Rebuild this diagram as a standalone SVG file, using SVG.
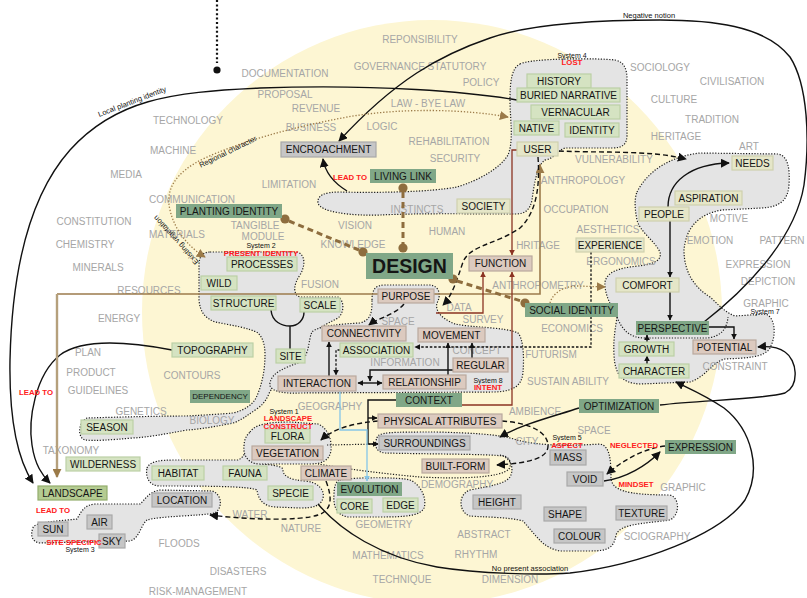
<svg xmlns="http://www.w3.org/2000/svg" width="807" height="598" viewBox="0 0 807 598">
<style>
.gw{font-family:'Liberation Sans',Arial,sans-serif;font-size:10px;fill:#a6a6a6;text-anchor:middle}
.nt{font-family:'Liberation Sans',Arial,sans-serif;font-size:10px;fill:#151515;text-anchor:middle}
.rl{font-family:'Liberation Sans',Arial,sans-serif;font-size:7.8px;font-weight:bold;fill:#ff2020;text-anchor:middle}
.sl{font-family:'Liberation Sans',Arial,sans-serif;font-size:7px;fill:#111;text-anchor:middle}
.cl{font-family:'Liberation Sans',Arial,sans-serif;font-size:7.5px;fill:#111;text-anchor:middle}
.blob{fill:#e4e4e4;stroke:#1c1c1c;stroke-width:1.2;stroke-dasharray:1.2 1.6}
.dl{fill:none;stroke:#1c1c1c;stroke-width:1.2;stroke-dasharray:1.2 1.6}
.lg rect{fill:#d5e3c2;stroke:#bcd0a6;stroke-width:1.2}
.py rect{fill:#e5e6c8;stroke:#cfd1ae;stroke-width:1.2}
.dg rect{fill:#80a787}
.pk rect{fill:#dccabf;stroke:#baa99e;stroke-width:1.2}
.gy rect{fill:#c6c6c6;stroke:#a9a9a9;stroke-width:1.2}
.ls rect{fill:#b4cb91;stroke:#93ad6d;stroke-width:1.2}
.k{fill:none;stroke:#111;stroke-width:1.4}
.kd{fill:none;stroke:#111;stroke-width:1.4;stroke-dasharray:5 3}
.ks{fill:none;stroke:#111;stroke-width:1.3;stroke-dasharray:2.5 1.8}
.br{fill:none;stroke:#8e6d3e;stroke-width:3;stroke-dasharray:6 4}
.bd{fill:none;stroke:#9b7a48;stroke-width:1.3;stroke-dasharray:1.3 1.8}
.rd{fill:none;stroke:#8b3322;stroke-width:1.3}
.dot{fill:#8e6d3e}
</style>
<defs>
<marker id="ab" viewBox="0 0 10 10" refX="9" refY="5" markerWidth="9" markerHeight="9" markerUnits="userSpaceOnUse" orient="auto-start-reverse"><path d="M0,0 L10,5 L0,10 z" fill="#111"/></marker>
<marker id="as" viewBox="0 0 10 10" refX="9" refY="5" markerWidth="6" markerHeight="6" markerUnits="userSpaceOnUse" orient="auto-start-reverse"><path d="M0,0 L10,5 L0,10 z" fill="#111"/></marker>
<marker id="abr" viewBox="0 0 10 10" refX="9" refY="5" markerWidth="9" markerHeight="9" markerUnits="userSpaceOnUse" orient="auto-start-reverse"><path d="M0,0 L10,5 L0,10 z" fill="#9b7a48"/></marker>
<marker id="ar" viewBox="0 0 10 10" refX="9" refY="5" markerWidth="6" markerHeight="6" markerUnits="userSpaceOnUse" orient="auto-start-reverse"><path d="M0,0 L10,5 L0,10 z" fill="#8b3322"/></marker>
<marker id="abl" viewBox="0 0 10 10" refX="9" refY="5" markerWidth="6" markerHeight="6" markerUnits="userSpaceOnUse" orient="auto-start-reverse"><path d="M0,0 L10,5 L0,10 z" fill="#86c6e8"/></marker>
</defs>
<rect x="0" y="0" width="807" height="598" fill="#ffffff"/>
<ellipse cx="432" cy="312" rx="290" ry="292" fill="#fdf6d3"/>

<g id="blobs">
<path id="sys4" class="blob" d="M520,64 C530,58 600,58 615,60 C625,62 627,70 627,80 L627,135 C627,145 622,148 612,148 L565,148 C558,150 556,158 545,160 C537,165 534,185 532,200 C530,210 525,214 515,214 C480,214 420,213 380,215 C350,216 320,212 318,203 C317,195 325,192 340,192 C380,193 430,192 457,187 C480,180 500,168 508,155 C514,140 510,120 510,100 C510,80 512,68 520,64 Z"/>
<path id="sys2" class="blob" d="M210,252 L297,252 C305,254 306,265 300,275 C293,285 293,295 300,297 L338,297 C344,300 345,312 338,318 C325,325 312,330 310,342 C308,358 306,368 296,374 C284,380 272,384 268,396 C265,402 262,405 258,408 C248,415 240,421 233,423 C210,428 190,430 187,430 C165,434 150,437 133,438 C110,440 95,441 85,440 C78,438 77,424 87,418 C120,417 160,416 187,416 C205,415 222,414 233,413 C245,410 252,405 256,398 C262,385 265,370 265,355 C265,345 263,338 258,333 C250,328 230,325 215,322 C205,318 200,312 199,300 L199,265 C199,256 203,252 210,252 Z"/>
<path id="sys8" class="blob" d="M372,300 C372,290 375,285 385,285 L430,285 C440,286 441,296 437,303 C435,310 440,318 455,324 C475,328 505,327 518,333 C524,340 524,360 523,372 C522,385 515,391 495,392 L300,393 C280,394 268,390 270,383 C272,372 285,368 300,362 C310,355 308,340 312,332 C318,326 340,324 360,323 C372,320 372,310 372,300 Z"/>
<path id="sys7" class="blob" d="M637,192 C648,170 672,156 700,153 L778,154 C788,156 790,168 789,185 C788,200 780,207 762,208 L722,210 C698,214 686,228 684,250 C684,272 694,287 710,297 C718,304 724,312 735,316 L765,314 C775,316 777,335 770,348 C764,358 745,358 725,359 C712,362 706,377 690,382 L640,384 C622,383 615,375 614,355 C613,338 616,325 617,317 C610,305 604,292 605,282 C607,272 618,268 638,266 C655,264 662,260 660,252 C654,240 640,232 637,220 C635,210 634,200 637,192 Z"/>
<path class="dl" d="M617,317 C622,330 630,338 645,338 L708,338 C722,336 727,328 728,317"/>
<path id="habitat-blob" class="blob" d="M147,468 C150,461 160,460 175,460 L238,460 C244,458 246,450 248,446 L255,463 C268,465 283,465 283,470 C283,476 290,480 305,481 C318,482 325,490 323,498 C321,506 313,508 300,508 L275,507 C262,506 258,498 257,490 C250,486 200,486 160,486 C150,486 145,478 147,468 Z"/>
<path id="sys1" class="blob" d="M250,432 C255,424 270,422 290,422 L318,424 C328,428 332,440 331,450 C330,460 322,464 310,464 L258,464 C248,463 243,455 244,447 C244,440 246,436 250,432 Z"/>
<path id="sys3" class="blob" d="M33,528 C33,522 60,521 77,519 C82,510 85,505 95,504 L140,504 C145,500 148,492 160,490 L212,491 C222,494 223,508 215,513 C200,516 160,516 147,520 C140,526 140,538 130,541 L40,543 C32,542 30,535 33,528 Z"/>
<path id="evo-blob" class="blob" d="M340,480 C355,477 400,477 410,480 C422,485 427,500 424,508 C420,516 405,517 380,517 L348,517 C336,515 333,505 334,495 C334,486 336,481 340,480 Z"/>
<path id="sys5" class="blob" d="M377,438 C378,432 390,432 437,432 C470,433 500,434 517,440 C540,446 570,446 600,444 C610,446 611,460 611,478 C612,490 625,495 670,495 C680,498 680,515 670,520 C640,524 620,524 616,535 C614,548 608,551 590,551 L560,551 C545,548 540,540 535,535 L523,521 C510,517 480,517 470,516 C458,512 458,494 470,490 C490,486 505,484 510,477 C514,470 512,460 503,456 C490,454 420,454 385,453 C375,452 374,444 377,438 Z"/>
<path class="dl" d="M327,445 L378,444"/>
<path class="dl" d="M318,464 C340,468 385,474 420,477 C460,479 500,478 509,469 C513,461 508,456 500,455"/>
</g>

<g id="words">
<text class="gw" x="420" y="42.6">REPONSIBILITY</text>
<text class="gw" x="285" y="76.6">DOCUMENTATION</text>
<text class="gw" x="420" y="69.6">GOVERNANCE STATUTORY</text>
<text class="gw" x="481" y="85.6">POLICY</text>
<text class="gw" x="285" y="97.6">PROPOSAL</text>
<text class="gw" x="316" y="111.6">REVENUE</text>
<text class="gw" x="428" y="106.6">LAW - BYE LAW</text>
<text class="gw" x="311" y="130.6">BUSINESS</text>
<text class="gw" x="382" y="129.6">LOGIC</text>
<text class="gw" x="449" y="144.6">REHABILITATION</text>
<text class="gw" x="455" y="161.6">SECURITY</text>
<text class="gw" x="289" y="187.6">LIMITATION</text>
<text class="gw" x="188" y="123.6">TECHNOLOGY</text>
<text class="gw" x="173" y="153.6">MACHINE</text>
<text class="gw" x="126" y="177.6">MEDIA</text>
<text class="gw" x="192" y="202.6">COMMUNICATION</text>
<text class="gw" x="94" y="224.6">CONSTITUTION</text>
<text class="gw" x="85" y="247.6">CHEMISTRY</text>
<text class="gw" x="98" y="270.6">MINERALS</text>
<text class="gw" x="177" y="237.6">MATERIALS</text>
<text class="gw" x="149" y="293.6">RESOURCES</text>
<text class="gw" x="119" y="321.6">ENERGY</text>
<text class="gw" x="88" y="355.6">PLAN</text>
<text class="gw" x="91" y="375.6">PRODUCT</text>
<text class="gw" x="98" y="393.6">GUIDELINES</text>
<text class="gw" x="192" y="378.6">CONTOURS</text>
<text class="gw" x="141" y="414.6">GENETICS</text>
<text class="gw" x="212" y="423.6">BIOLOGY</text>
<text class="gw" x="71" y="453.6">TAXONOMY</text>
<text class="gw" x="179" y="546.6">FLOODS</text>
<text class="gw" x="238" y="574.6">DISASTERS</text>
<text class="gw" x="198" y="594.6">RISK-MANAGEMENT</text>
<text class="gw" x="250" y="517.6">WATER</text>
<text class="gw" x="301" y="531.6">NATURE</text>
<text class="gw" x="330" y="409.6">GEOGRAPHY</text>
<text class="gw" x="384" y="527.6">GEOMETRY</text>
<text class="gw" x="388" y="558.6">MATHEMATICS</text>
<text class="gw" x="402" y="582.6">TECHNIQUE</text>
<text class="gw" x="484" y="537.6">ABSTRACT</text>
<text class="gw" x="476" y="557.6">RHYTHM</text>
<text class="gw" x="510" y="582.6">DIMENSION</text>
<text class="gw" x="457" y="487.6">DEMOGRAPHY</text>
<text class="gw" x="527" y="444.6">CITY</text>
<text class="gw" x="535" y="414.6">AMBIENCE</text>
<text class="gw" x="594" y="433.6">SPACE</text>
<text class="gw" x="683" y="490.6">GRAPHIC</text>
<text class="gw" x="657" y="539.6">SCIOGRAPHY</text>
<text class="gw" x="551" y="357.6">FUTURISM</text>
<text class="gw" x="568" y="384.6">SUSTAIN ABILITY</text>
<text class="gw" x="735" y="369.6">CONSTRAINT</text>
<text class="gw" x="572" y="331.6">ECONOMICS</text>
<text class="gw" x="538" y="288.6">ANTHROPOMETRY</text>
<text class="gw" x="621" y="264.6">ERGONOMICS</text>
<text class="gw" x="608" y="232.6">AESTHETICS</text>
<text class="gw" x="576" y="212.6">OCCUPATION</text>
<text class="gw" x="538" y="248.6">HRITAGE</text>
<text class="gw" x="583" y="183.6">ANTHROPOLOGY</text>
<text class="gw" x="614" y="162.6">VULNERABILITY</text>
<text class="gw" x="660" y="70.6">SOCIOLOGY</text>
<text class="gw" x="732" y="84.6">CIVILISATION</text>
<text class="gw" x="674" y="102.6">CULTURE</text>
<text class="gw" x="712" y="122.6">TRADITION</text>
<text class="gw" x="676" y="139.6">HERITAGE</text>
<text class="gw" x="749" y="149.6">ART</text>
<text class="gw" x="729" y="221.6">MOTIVE</text>
<text class="gw" x="710" y="243.6">EMOTION</text>
<text class="gw" x="782" y="243.6">PATTERN</text>
<text class="gw" x="758" y="267.6">EXPRESSION</text>
<text class="gw" x="768" y="284.6">DEPICTION</text>
<text class="gw" x="766" y="306.6">GRAPHIC</text>
<text class="gw" x="355" y="228.6">VISION</text>
<text class="gw" x="417" y="212.6">INSTINCTS</text>
<text class="gw" x="447" y="234.6">HUMAN</text>
<text class="gw" x="353" y="247.6">KNOWLEDGE</text>
<text class="gw" x="255" y="228.6">TANGIBLE</text>
<text class="gw" x="263" y="239.6">MODULE</text>
<text class="gw" x="320" y="287.6">FUSION</text>
<text class="gw" x="398" y="324.6">SPACE</text>
<text class="gw" x="459" y="310.6">DATA</text>
<text class="gw" x="483" y="322.6">SURVEY</text>
<text class="gw" x="405" y="365.6">INFORMATION</text>
<text class="gw" x="477" y="353.6">CONCEPT</text>
</g>

<g id="connectors">
<path d="M217,0 V63" fill="none" stroke="#111" stroke-width="2.2" stroke-dasharray="2 2.4"/>
<circle cx="217" cy="70" r="3.6" fill="#111"/>
<path class="k" d="M517,100 C470,92 380,84 260,88 C170,92 115,100 70,150 C30,195 12,270 10,360 C9,420 18,460 33,483" marker-end="url(#ab)"/>
<path class="k" d="M172,350 C120,340 80,340 60,355 C35,375 28,420 32,445 C35,465 42,475 50,483" marker-end="url(#ab)"/>
<path class="k" d="M704,322 C745,290 795,240 804,185 C810,140 808,85 790,57 C765,25 710,20 660,20 C590,20 530,24 490,38 C440,55 395,80 339,141" marker-end="url(#ab)"/>
<path class="k" d="M347,191 C334,183 325,172 323,159" marker-end="url(#ab)"/>
<path class="bd" d="M508,117 C470,110 400,106 337,119 C290,128 240,142 205,158 C175,172 165,190 170,210 C175,232 190,248 205,257" marker-start="url(#abr)" marker-end="url(#abr)"/>
<path fill="none" stroke="#9c7b4c" stroke-width="1.6" d="M540,164 V294 H57"/>
<path fill="none" stroke="#b5a07c" stroke-width="2.4" d="M57,294 V477" marker-end="url(#abr)"/>
<path d="M540,180 V165" fill="none" stroke="#9c7b4c" stroke-width="1.6" marker-end="url(#abr)"/>
<path class="rd" d="M517,150 H512 V255" marker-end="url(#ar)"/>
<path class="rd" d="M436,313 H483 V272" marker-end="url(#ar)"/>
<path class="rd" d="M462,405 H512 V272" marker-end="url(#ar)"/>
<path class="kd" d="M538,157 C540,185 537,212 520,228 C495,245 470,245 463,262 C457,280 452,296 443,305" marker-end="url(#ab)"/>
<path class="kd" d="M559,151 C600,153 650,150 686,159" marker-end="url(#ab)"/>
<path class="kd" d="M404,304 C395,315 378,318 369,325" marker-end="url(#ab)"/>
<path class="br" d="M403,192 V244"/>
<path class="br" d="M289,221 L359,250"/>
<path class="br" d="M457,281 L521,301"/>
<circle class="dot" cx="403" cy="188" r="4.6"/>
<circle class="dot" cx="403" cy="248" r="4.6"/>
<circle class="dot" cx="285" cy="219" r="4.6"/>
<circle class="dot" cx="363" cy="252" r="4.6"/>
<circle class="dot" cx="453" cy="279" r="4.6"/>
<circle class="dot" cx="525" cy="303" r="4.6"/>
<path class="bd" d="M550,303 C553,292 565,286 578,286 L605,287" marker-end="url(#abr)"/>
<path class="k" d="M271,310 C272,322 282,326 290,326 C298,326 304,320 304,312 M290,326 V349"/>
<path class="k" d="M329,376 V342" marker-end="url(#as)"/>
<path class="ks" d="M340,350 H336 V375" marker-end="url(#as)"/>
<path class="ks" d="M591,252 V347 H415" marker-end="url(#as)"/>
<path class="k" d="M358,383 H382" marker-start="url(#as)" marker-end="url(#as)"/>
<path class="k" d="M453,370 H370 V381" marker-end="url(#as)"/>
<path class="k" d="M448,375 V343" marker-end="url(#as)"/>
<path class="k" d="M472,358 V343" marker-end="url(#as)"/>
<path class="k" d="M396,400 H368 V444 H378" marker-end="url(#as)"/>
<path class="k" d="M368,418 H377" marker-end="url(#as)"/>
<path fill="none" stroke="#86c6e8" stroke-width="1.3" d="M340,391 V430 H367 V481" marker-end="url(#abl)"/>
<path class="kd" d="M378,421 C355,423 334,428 321,440" marker-end="url(#ab)"/>
<path class="kd" d="M502,421 C530,423 548,432 548,446 C548,458 530,463 497,465" marker-end="url(#ab)"/>
<path class="k" d="M579,408 C555,416 522,424 500,437" marker-end="url(#ab)"/>
<path class="k" d="M604,481 C626,478 646,466 660,452" marker-end="url(#ab)"/>
<path class="kd" d="M665,446 C642,449 622,461 607,474" marker-end="url(#ab)"/>
<path class="kd" d="M326,481 C332,497 333,510 318,515 C300,521 250,520 210,515" marker-end="url(#ab)"/>
<path class="k" d="M318,504 C340,530 380,557 437,567 C480,574 540,575 570,573 C640,565 720,535 745,500 C762,470 752,430 724,408 C705,395 688,388 676,382" marker-end="url(#ab)"/>
<path class="k" d="M660,405 C700,400 760,400 785,393 C800,385 797,360 785,352 C778,347 768,346 758,347" marker-end="url(#ab)"/>
<path class="k" d="M668,207 C668,182 690,164 729,163" marker-end="url(#ab)"/>
<path class="k" d="M670,221 V277" marker-end="url(#as)"/>
<path class="k" d="M670,292 V320" marker-end="url(#as)"/>
<path class="k" d="M709,327 H734 V339" marker-end="url(#as)"/>
<path class="k" d="M647,342 V335" marker-end="url(#as)"/>
<path class="k" d="M647,364 V356" marker-end="url(#as)"/>
</g>

<g id="nodes">
<g id="n-history" class="lg"><rect x="527" y="74" width="64" height="14"/><text class="nt" x="559" y="84.6">HISTORY</text></g>
<g id="n-buried" class="lg"><rect x="517" y="88" width="103" height="14"/><text class="nt" x="568.5" y="98.6">BURIED NARRATIVE</text></g>
<g id="n-vernacular" class="lg"><rect x="531" y="105" width="89" height="14"/><text class="nt" x="575.5" y="115.6">VERNACULAR</text></g>
<g id="n-native" class="lg"><rect x="514" y="121" width="45" height="14"/><text class="nt" x="536.5" y="131.6">NATIVE</text></g>
<g id="n-identity" class="lg"><rect x="565" y="123" width="54" height="14"/><text class="nt" x="592" y="133.6">IDENTITY</text></g>
<g id="n-user" class="py"><rect x="517" y="142" width="41" height="14"/><text class="nt" x="537.5" y="152.6">USER</text></g>
<g id="n-encroachment" class="gy"><rect x="281" y="142" width="95" height="15"/><text class="nt" x="328.5" y="153.1">ENCROACHMENT</text></g>
<g id="n-livinglink" class="dg"><rect x="370" y="169" width="66" height="14"/><text class="nt" x="403" y="179.6">LIVING LINK</text></g>
<g id="n-society" class="py"><rect x="457" y="199" width="53" height="14"/><text class="nt" x="483.5" y="209.6">SOCIETY</text></g>
<g id="n-planting" class="dg"><rect x="176" y="204" width="106" height="14"/><text class="nt" x="229" y="214.6">PLANTING IDENTITY</text></g>
<g id="n-design" class="dg"><rect x="366" y="253" width="87" height="26"/><text class="nt" x="409.5" y="273" style="font-size:19.5px;font-weight:bold">DESIGN</text></g>
<g id="n-function" class="pk"><rect x="469" y="256" width="63" height="15"/><text class="nt" x="500.5" y="267.1">FUNCTION</text></g>
<g id="n-social" class="dg"><rect x="525" y="303" width="93" height="14"/><text class="nt" x="571.5" y="313.6">SOCIAL IDENTITY</text></g>
<g id="n-processes" class="lg"><rect x="227" y="257" width="70" height="14"/><text class="nt" x="262" y="267.6">PROCESSES</text></g>
<g id="n-wild" class="lg"><rect x="201" y="276" width="36" height="14"/><text class="nt" x="219" y="286.6">WILD</text></g>
<g id="n-structure" class="lg"><rect x="211" y="296" width="65" height="14"/><text class="nt" x="243.5" y="306.6">STRUCTURE</text></g>
<g id="n-scale" class="lg"><rect x="300" y="298" width="40" height="14"/><text class="nt" x="320" y="308.6">SCALE</text></g>
<g id="n-site" class="lg"><rect x="276" y="349" width="29" height="14"/><text class="nt" x="290.5" y="359.6">SITE</text></g>
<g id="n-topography" class="lg"><rect x="172" y="343" width="81" height="14"/><text class="nt" x="212.5" y="353.6">TOPOGRAPHY</text></g>
<g id="n-dependency" class="dg"><rect x="190" y="390" width="60" height="13"/><text class="nt" x="220" y="399.4" style="font-size:8px">DEPENDENCY</text></g>
<g id="n-purpose" class="pk"><rect x="378" y="289" width="56" height="14"/><text class="nt" x="406" y="299.6">PURPOSE</text></g>
<g id="n-connectivity" class="pk"><rect x="322" y="326" width="84" height="15"/><text class="nt" x="364" y="337.1">CONNECTIVITY</text></g>
<g id="n-movement" class="pk"><rect x="418" y="328" width="67" height="14"/><text class="nt" x="451.5" y="338.6">MOVEMENT</text></g>
<g id="n-association" class="lg"><rect x="340" y="343" width="73" height="14"/><text class="nt" x="376.5" y="353.6">ASSOCIATION</text></g>
<g id="n-regular" class="pk"><rect x="453" y="358" width="55" height="14"/><text class="nt" x="480.5" y="368.6">REGULAR</text></g>
<g id="n-relationship" class="pk"><rect x="383" y="375" width="83" height="14"/><text class="nt" x="424.5" y="385.6">RELATIONSHIP</text></g>
<g id="n-interaction" class="pk"><rect x="278" y="376" width="78" height="15"/><text class="nt" x="317" y="387.1">INTERACTION</text></g>
<g id="n-context" class="dg"><rect x="396" y="393" width="66" height="14"/><text class="nt" x="429" y="403.6">CONTEXT</text></g>
<g id="n-physical" class="pk"><rect x="378" y="414" width="124" height="14"/><text class="nt" x="440" y="424.6">PHYSICAL ATTRIBUTES</text></g>
<g id="n-surroundings" class="gy"><rect x="379" y="436" width="91" height="14"/><text class="nt" x="424.5" y="446.6">SURROUNDINGS</text></g>
<g id="n-builtform" class="pk"><rect x="422" y="459" width="67" height="14"/><text class="nt" x="455.5" y="469.6">BUILT-FORM</text></g>
<g id="n-height" class="gy"><rect x="473" y="495" width="48" height="14"/><text class="nt" x="497" y="505.6">HEIGHT</text></g>
<g id="n-evolution" class="dg"><rect x="337" y="482" width="65" height="14"/><text class="nt" x="369.5" y="492.6">EVOLUTION</text></g>
<g id="n-core" class="lg"><rect x="337" y="499" width="35" height="14"/><text class="nt" x="354.5" y="509.6">CORE</text></g>
<g id="n-edge" class="lg"><rect x="383" y="498" width="35" height="14"/><text class="nt" x="400.5" y="508.6">EDGE</text></g>
<g id="n-climate" class="pk"><rect x="301" y="466" width="50" height="14"/><text class="nt" x="326" y="476.6">CLIMATE</text></g>
<g id="n-vegetation" class="pk"><rect x="252" y="446" width="71" height="14"/><text class="nt" x="287.5" y="456.6">VEGETATION</text></g>
<g id="n-flora" class="lg"><rect x="265" y="429" width="45" height="14"/><text class="nt" x="287.5" y="439.6">FLORA</text></g>
<g id="n-fauna" class="lg"><rect x="223" y="466" width="44" height="14"/><text class="nt" x="245" y="476.6">FAUNA</text></g>
<g id="n-specie" class="lg"><rect x="268" y="486" width="45" height="14"/><text class="nt" x="290.5" y="496.6">SPECIE</text></g>
<g id="n-habitat" class="lg"><rect x="152" y="466" width="52" height="14"/><text class="nt" x="178" y="476.6">HABITAT</text></g>
<g id="n-wilderness" class="lg"><rect x="66" y="457" width="74" height="14"/><text class="nt" x="103" y="467.6">WILDERNESS</text></g>
<g id="n-season" class="lg"><rect x="81" y="420" width="52" height="14"/><text class="nt" x="107" y="430.6">SEASON</text></g>
<g id="n-landscape" class="ls"><rect x="38" y="486" width="69" height="14"/><text class="nt" x="72.5" y="496.6">LANDSCAPE</text></g>
<g id="n-location" class="gy"><rect x="152" y="493" width="60" height="14"/><text class="nt" x="182" y="503.6">LOCATION</text></g>
<g id="n-air" class="gy"><rect x="87" y="515" width="25" height="14"/><text class="nt" x="99.5" y="525.6">AIR</text></g>
<g id="n-sun" class="gy"><rect x="38" y="522" width="30" height="14"/><text class="nt" x="53" y="532.6">SUN</text></g>
<g id="n-sky" class="gy"><rect x="99" y="534" width="26" height="14"/><text class="nt" x="112" y="544.6">SKY</text></g>
<g id="n-optimization" class="dg"><rect x="579" y="399" width="80" height="14"/><text class="nt" x="619" y="409.6">OPTIMIZATION</text></g>
<g id="n-expression" class="dg"><rect x="665" y="440" width="71" height="14"/><text class="nt" x="700.5" y="450.6">EXPRESSION</text></g>
<g id="n-mass" class="gy"><rect x="550" y="450" width="36" height="15"/><text class="nt" x="568" y="461.1">MASS</text></g>
<g id="n-void" class="gy"><rect x="567" y="472" width="36" height="14"/><text class="nt" x="585" y="482.6">VOID</text></g>
<g id="n-shape" class="gy"><rect x="544" y="507" width="42" height="14"/><text class="nt" x="565" y="517.6">SHAPE</text></g>
<g id="n-texture" class="gy"><rect x="616" y="506" width="51" height="14"/><text class="nt" x="641.5" y="516.6">TEXTURE</text></g>
<g id="n-colour" class="gy"><rect x="554" y="529" width="51" height="14"/><text class="nt" x="579.5" y="539.6">COLOUR</text></g>
<g id="n-needs" class="py"><rect x="732" y="156" width="41" height="14"/><text class="nt" x="752.5" y="166.6">NEEDS</text></g>
<g id="n-aspiration" class="py"><rect x="675" y="191" width="67" height="14"/><text class="nt" x="708.5" y="201.6">ASPIRATION</text></g>
<g id="n-people" class="py"><rect x="639" y="207" width="50" height="14"/><text class="nt" x="664" y="217.6">PEOPLE</text></g>
<g id="n-experience" class="py"><rect x="576" y="238" width="68" height="14"/><text class="nt" x="610" y="248.6">EXPERIENCE</text></g>
<g id="n-comfort" class="py"><rect x="616" y="278" width="63" height="14"/><text class="nt" x="647.5" y="288.6">COMFORT</text></g>
<g id="n-perspective" class="dg"><rect x="636" y="321" width="73" height="14"/><text class="nt" x="672.5" y="331.6">PERSPECTIVE</text></g>
<g id="n-growth" class="lg"><rect x="619" y="342" width="55" height="14"/><text class="nt" x="646.5" y="352.6">GROWTH</text></g>
<g id="n-character" class="lg"><rect x="619" y="364" width="70" height="14"/><text class="nt" x="654" y="374.6">CHARACTER</text></g>
<g id="n-potential" class="pk"><rect x="693" y="340" width="63" height="14"/><text class="nt" x="724.5" y="350.6">POTENTIAL</text></g>
</g>

<g id="labels">
<text class="rl" x="350" y="180">LEAD TO</text>
<text class="rl" x="36" y="395">LEAD TO</text>
<text class="rl" x="53" y="513">LEAD TO</text>
<text class="sl" x="572" y="57.5">System 4</text>
<text class="rl" x="572" y="65">LOST</text>
<text class="sl" x="261" y="247.5">System 2</text>
<text class="rl" x="261" y="256">PRESENT IDENTITY</text>
<text class="sl" x="488" y="382.5">System 8</text>
<text class="rl" x="488" y="390">INTENT</text>
<text class="sl" x="284" y="413.5">System 1</text>
<text class="rl" x="288" y="420.5">LANDSCAPE</text>
<text class="rl" x="288" y="428.5">CONSTRUCT</text>
<text class="rl" x="74" y="545">SITE SPECIFIC</text>
<text class="sl" x="80" y="551.5">System 3</text>
<text class="sl" x="567" y="439.5">System 5</text>
<text class="rl" x="567" y="448">ASPECT</text>
<text class="rl" x="634" y="448">NEGLECTED</text>
<text class="rl" x="636" y="487">MINDSET</text>
<text class="sl" x="765" y="313.5">System 7</text>
<text class="cl" x="649" y="17.5">Negative notion</text>
<text class="cl" x="530" y="571">No present association</text>
<text class="cl" transform="translate(133,104) rotate(-21)">Local planting identity</text>
<text class="cl" transform="translate(229,154) rotate(-26)">Regional character</text>
<text class="cl" transform="translate(176,240) rotate(-132)" dy="2.5">Existing vegetation</text>
</g>
</svg>
